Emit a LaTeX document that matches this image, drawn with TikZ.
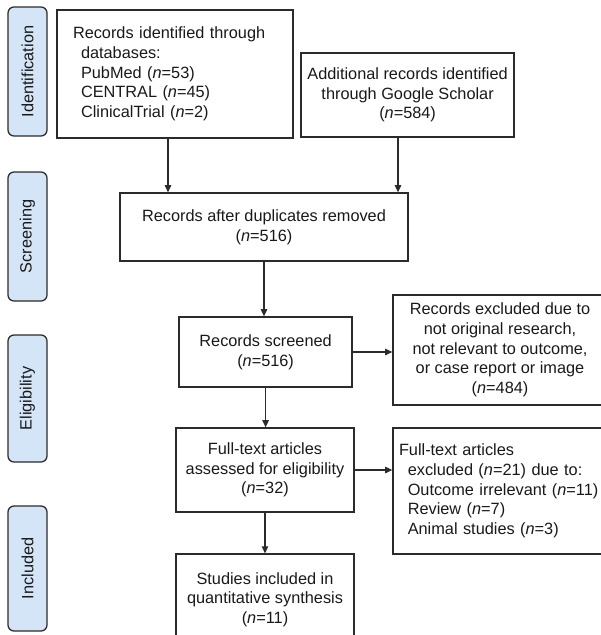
\documentclass[tikz,border=0pt]{standalone}
\usepackage{fontspec}
\setmainfont{Liberation Sans}
\usetikzlibrary{arrows.meta,positioning}
\definecolor{stagefill}{HTML}{D5E5F8}
\definecolor{linegray}{HTML}{2B2B2B}

\begin{document}
\begin{tikzpicture}
	\tikzstyle{every node}=[font=\fontsize{11.6}{14}\selectfont, text=black!90]
	\tikzstyle{stage}=[draw=linegray, line width=0.9pt, fill=stagefill, rounded corners=0.15cm, rotate=90, minimum height=0.975cm, inner sep=0pt]
	\tikzstyle{box}=[draw=linegray, line width=0.9pt, align=center, inner sep=0pt]
	\tikzstyle{arr}=[line width=0.9pt, draw=linegray, -{Triangle[length=0.18cm,width=0.16cm]}]
	\path[use as bounding box] (0,0) rectangle (15,-15.875);
	% stages on the left
	\node[stage, minimum width=3.225cm] (idlab) at (0.6875,-1.7875) {Identification};
	\node[stage, minimum width=3.225cm] (scrlab) at (0.6875,-5.9125) {Screening};
	\node[stage, minimum width=3.175cm] (elilab) at (0.6875,-9.9625) {Eligibility};
	\node[stage, minimum width=3.125cm] (inclab) at (0.6875,-14.2125) {Included};
	% boxes
	\node[box, minimum width=5.9cm, minimum height=3.2cm, text width=5.1cm, align=left] (db) at (4.375,-1.85) {Records identified through\\
		\hspace*{0.2cm}databases:\\
		\hspace*{0.2cm}PubMed (\textit{n}=53)\\
		\hspace*{0.2cm}CENTRAL (\textit{n}=45)\\
		\hspace*{0.2cm}ClinicalTrial (\textit{n}=2)};
	\node[box, minimum width=5.325cm, minimum height=2.1cm] (gs) at (10.19,-2.375) {Additional records identified\\through Google Scholar\\(\textit{n}=584)};
	\node[box, minimum width=7.2cm, minimum height=1.7cm] (dup) at (6.6,-5.675) {Records after duplicates removed\\(\textit{n}=516)};
	\node[box, minimum width=4.325cm, minimum height=1.75cm] (scr) at (6.64,-8.8) {Records screened\\(\textit{n}=516)};
	\node[box, minimum width=5.35cm, minimum height=2.75cm] (exc1) at (12.5,-8.75) {Records excluded due to\\not original research,\\not relevant to outcome,\\or case report or image\\(\textit{n}=484)};
	\node[box, minimum width=4.45cm, minimum height=2.1cm] (ft) at (6.625,-11.75) {Full-text articles\\assessed for eligibility\\(\textit{n}=32)};
	\node[box, minimum width=5.35cm, minimum height=3.15cm, text width=5.05cm, align=left] (exc2) at (12.5,-12.275) {Full-text articles\\
		\hspace*{0.22cm}excluded (\textit{n}=21) due to:\\
		\hspace*{0.22cm}Outcome irrelevant (\textit{n}=11)\\
		\hspace*{0.22cm}Review (\textit{n}=7)\\
		\hspace*{0.22cm}Animal studies (\textit{n}=3)};
	\node[box, minimum width=4.45cm, minimum height=2.275cm] (inc) at (6.625,-14.99) {Studies included in\\quantitative synthesis\\(\textit{n}=11)};
	% arrows
	\draw[arr] ([xshift=-0.175cm]db.south) -- ([xshift=-0.175cm]db.south |- dup.north);
	\draw[arr] ([xshift=-0.24cm]gs.south) -- ([xshift=-0.24cm]gs.south |- dup.north);
	\draw[arr] (dup.south) -- (dup.south |- scr.north);
	\draw[arr] (scr.east) -- (scr.east -| exc1.west);
	\draw[arr] (scr.south) -- (scr.south |- ft.north);
	\draw[arr] (ft.east) -- (ft.east -| exc2.west);
	\draw[arr] (ft.south) -- (ft.south |- inc.north);
\end{tikzpicture}
\end{document}
